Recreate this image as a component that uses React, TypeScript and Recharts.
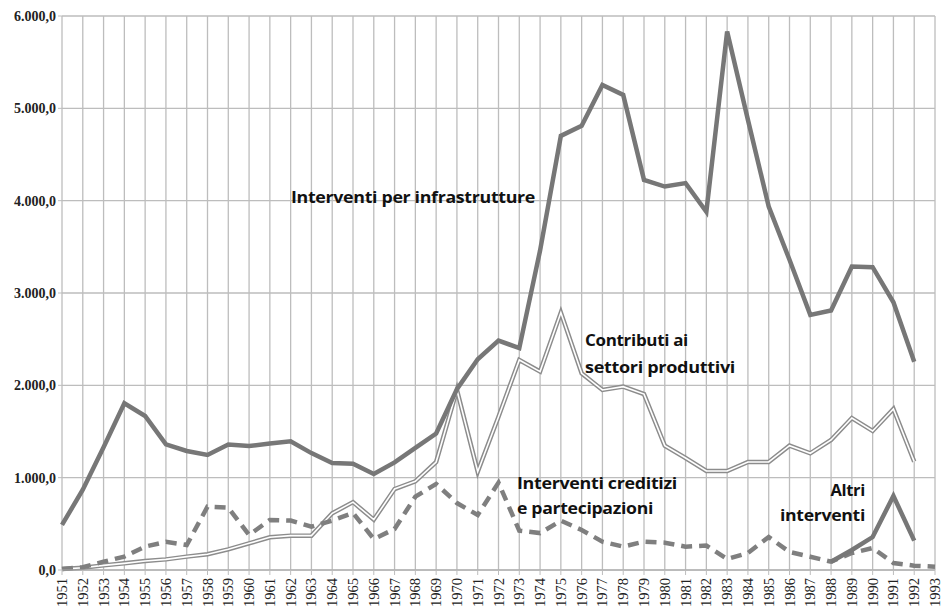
import React from "react";
import { LineChart, Line, XAxis, YAxis, CartesianGrid } from "recharts";

const years = [
  1951, 1952, 1953, 1954, 1955, 1956, 1957, 1958, 1959, 1960, 1961, 1962, 1963, 1964, 1965,
  1966, 1967, 1968, 1969, 1970, 1971, 1972, 1973, 1974, 1975, 1976, 1977, 1978, 1979, 1980,
  1981, 1982, 1983, 1984, 1985, 1986, 1987, 1988, 1989, 1990, 1991, 1992, 1993,
];

const infrastrutture = [
  488, 870, 1330, 1805, 1668, 1360, 1289, 1246, 1360, 1343, 1370, 1395, 1266, 1159, 1152,
  1040, 1165, 1322, 1478, 1958, 2283, 2485, 2403, 3460, 4702, 4810, 5254, 5146, 4225, 4153,
  4190, 3880, 5832, 4875, 3937, 3360, 2763, 2810, 3286, 3280, 2900, 2255, null,
];

const contributi = [
  10, 25, 50, 72, 97, 115, 145, 170, 224, 289, 354, 372, 372, 614, 735,
  545, 877, 960, 1170, 1950, 1065, 1660, 2275, 2149, 2788, 2130, 1950, 1986, 1905, 1347,
  1213, 1072, 1072, 1170, 1170, 1347, 1264, 1408, 1646, 1506, 1744, 1174, null,
];

const creditizi = [
  10, 30, 90, 145, 253, 305, 270, 686, 675, 379, 542, 535, 470, 535, 618,
  336, 444, 794, 932, 725, 596, 946, 426, 400, 534, 433, 307, 253, 307, 296,
  253, 264, 119, 184, 357, 195, 144, 90, 184, 238, 76, 47, 36,
];

const altri = [
  null, null, null, null, null, null, null, null, null, null, null, null, null, null, null,
  null, null, null, null, null, null, null, null, null, null, null, null, null, null, null,
  null, null, null, null, null, null, null, 90, 217, 357, 802, 318, null,
];

const yTicks = [0, 1000, 2000, 3000, 4000, 5000, 6000];

const data = years.map((year, i) => ({
  year,
  infrastrutture: infrastrutture[i],
  contributi: contributi[i],
  creditizi: creditizi[i],
  altri: altri[i],
}));

const fmtY = (v: number) => {
  if (v === 0) return "0,0";
  const th = Math.floor(v / 1000);
  const rest = String(v % 1000).padStart(3, "0");
  return `${th}.${rest},0`;
};

const XTick = (props: any) => {
  const { x, y, payload } = props;
  return (
    <text
      x={x}
      y={y + 1}
      transform={`rotate(-90, ${x}, ${y + 1})`}
      textAnchor="end"
      dy="0.35em"
      fontFamily="'Liberation Serif', serif"
      fontSize={14.5}
      fill="#222"
    >
      {payload.value}
    </text>
  );
};

const labelStyle: React.CSSProperties = {
  fontFamily: "'Open Sans', 'Noto Sans', sans-serif",
  fontWeight: 700,
  letterSpacing: "-0.3px",
};

export default function App() {
  return (
    <div style={{ position: "absolute", left: 0, top: 0, width: 943, height: 610, background: "#fff" }}>
      <LineChart
        width={943}
        height={610}
        data={data}
        margin={{ top: 16, right: 8, left: 0, bottom: 0 }}
      >
        <CartesianGrid stroke="#bdbdbd" strokeWidth={1.3} />
        <XAxis
          dataKey="year"
          type="number"
          domain={[1951, 1993]}
          ticks={years}
          interval={0}
          tick={<XTick />}
          tickLine={{ stroke: "#bdbdbd" }}
          tickSize={5}
          axisLine={{ stroke: "#aaaaaa" }}
          height={40}
        />
        <YAxis
          domain={[0, 6000]}
          ticks={yTicks}
          tickFormatter={fmtY}
          width={62}
          axisLine={false}
          tickLine={{ stroke: "#bdbdbd" }}
          tickSize={4}
          tick={{ fontFamily: "'Liberation Serif', serif", fontSize: 14, fontWeight: 700, fill: "#222" }}
        />
        <Line
          dataKey="contributi"
          stroke="#8c8c8c"
          strokeWidth={4.5}
          dot={false}
          isAnimationActive={false}
          connectNulls={false}
        />
        <Line
          dataKey="contributi"
          name="contributi-inner"
          stroke="#ffffff"
          strokeWidth={1.6}
          dot={false}
          isAnimationActive={false}
          connectNulls={false}
        />
        <Line
          dataKey="creditizi"
          stroke="#7f7f7f"
          strokeWidth={4.5}
          strokeDasharray="11 7"
          dot={false}
          isAnimationActive={false}
        />
        <Line
          dataKey="altri"
          stroke="#777777"
          strokeWidth={4.5}
          dot={false}
          isAnimationActive={false}
        />
        <Line
          dataKey="infrastrutture"
          stroke="#777777"
          strokeWidth={4.5}
          dot={false}
          isAnimationActive={false}
        />
      </LineChart>
      <svg
        width={943}
        height={610}
        style={{ position: "absolute", left: 0, top: 0, pointerEvents: "none" }}
      >
        <g style={labelStyle} fontSize={16.5} fill="#111">
          <text x={291} y={203} textLength={244} lengthAdjust="spacingAndGlyphs">Interventi per infrastrutture</text>
          <text x={585} y={346} textLength={103} lengthAdjust="spacingAndGlyphs">Contributi ai</text>
          <text x={585} y={373} textLength={150} lengthAdjust="spacingAndGlyphs">settori produttivi</text>
          <text x={517} y={489} textLength={160} lengthAdjust="spacingAndGlyphs">Interventi creditizi</text>
          <text x={517} y={514} textLength={136} lengthAdjust="spacingAndGlyphs">e partecipazioni</text>
          <text x={865} y={496} textAnchor="end">Altri</text>
          <text x={780} y={521} textLength={85} lengthAdjust="spacingAndGlyphs">interventi</text>
        </g>
      </svg>
    </div>
  );
}
